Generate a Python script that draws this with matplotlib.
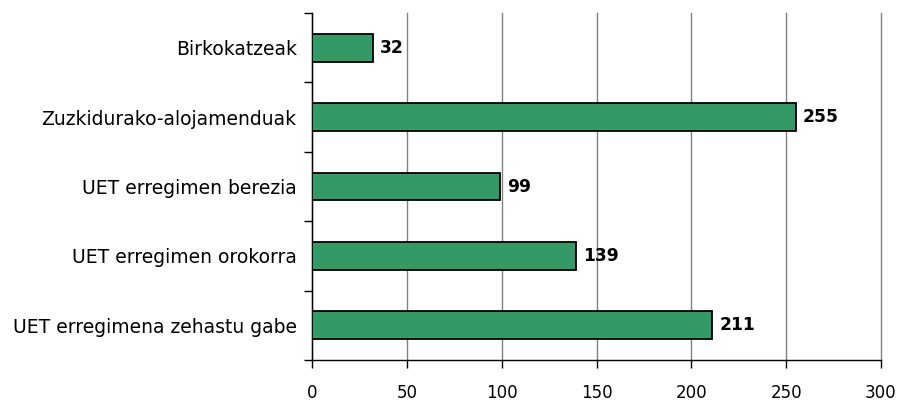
import matplotlib.pyplot as plt
import numpy as np

# datos
categorias = ['Birkokatzeak', 'Zuzkidurako-alojamenduak', 'UET erregimen berezia',
              'UET erregimen orokorra', 'UET erregimena zehastu gabe']
valores = [32, 255, 99, 139, 211]
xticks = [0, 50, 100, 150, 200, 250, 300]

plt.rcParams['font.family'] = ['DejaVu Sans']

fig = plt.figure(figsize=(9.01, 4.03), dpi=100)
ax = fig.add_axes([312/901, 1 - 360/403, (881 - 312)/901, (360 - 13)/403])

y = np.arange(len(categorias))[::-1]
ax.barh(y, valores, height=0.4, color='#339966', edgecolor='black', linewidth=1.3, zorder=3)
for yi, v in zip(y, valores):
    ax.text(v + 3.8, yi, str(v), va='center', ha='left', fontsize=12.3, fontweight='bold', zorder=4)

ax.set_xlim(0, 300)
ax.set_ylim(-0.5, len(categorias) - 0.5)
ax.set_xticks(xticks)
ax.set_xticklabels([str(t) for t in xticks], fontsize=12)
ax.xaxis.grid(True, color='#808080', linewidth=1.0, zorder=0)
for gl in ax.get_xgridlines():
    gl.set_clip_on(False)

# etiquetas en el centro, marcas en los bordes
ax.set_yticks(y)
ax.set_yticklabels(categorias, fontsize=13.5)
ax.set_yticks(np.arange(-0.5, len(categorias)), minor=True)
ax.tick_params(axis='y', which='major', length=0, pad=11)
ax.tick_params(axis='y', which='minor', length=6, width=1, direction='out')
ax.tick_params(axis='x', length=6, width=1, direction='out', pad=11)

for s in ['top', 'right']:
    ax.spines[s].set_visible(False)
for s in ['left', 'bottom']:
    ax.spines[s].set_linewidth(1.0)

plt.savefig('out.png', dpi=100)
